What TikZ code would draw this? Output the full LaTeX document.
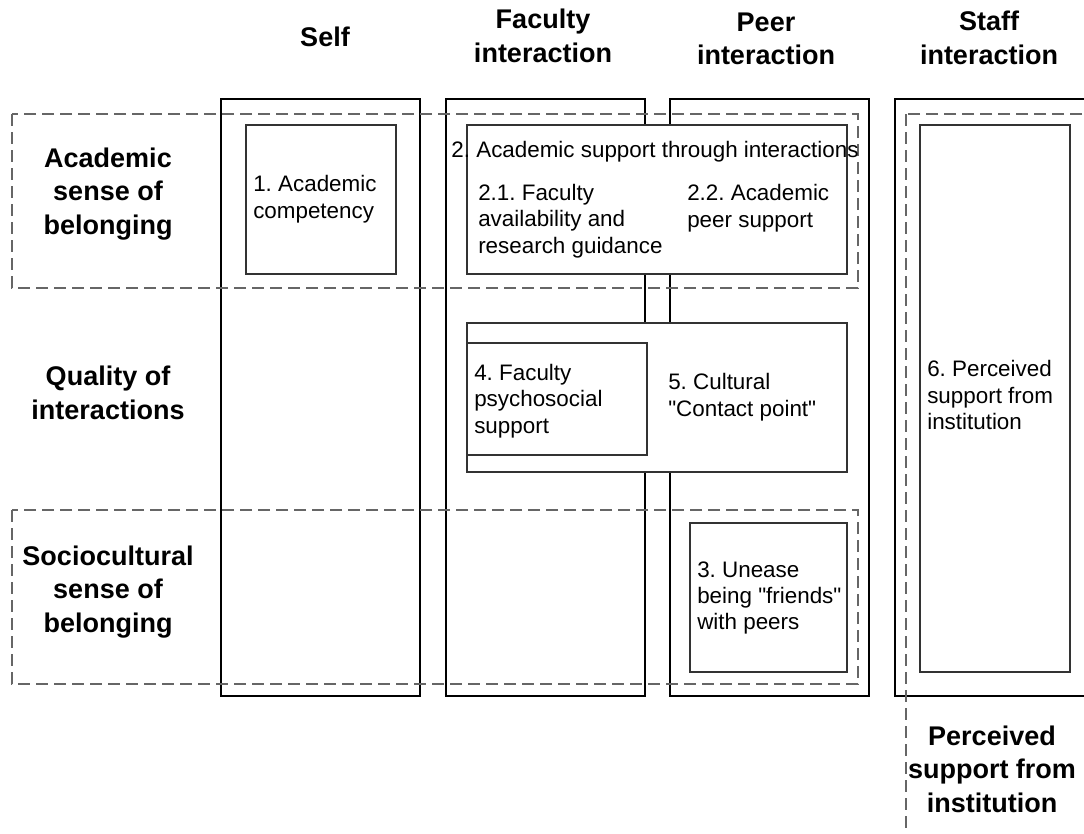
\documentclass[tikz,border=0pt]{standalone}
\usepackage{fontspec}
\setmainfont{Liberation Sans}
\frenchspacing

\tikzset{
  column/.style={draw=black, line width=2.2pt},
  band/.style={draw=black!60, dash pattern=on 9pt off 4.5pt, line width=1pt},
  item/.style={draw=black!80, fill=white, line width=1pt},
  heading/.style={font=\fontsize{20.25}{25}\selectfont\bfseries, align=center, inner sep=0pt},
  itemtext/.style={font=\fontsize{16.8}{19.8}\selectfont, align=left, inner sep=0pt, anchor=west},
}

\begin{document}
\begin{tikzpicture}[x=0.75pt, y=-0.75pt]
  \useasboundingbox (0,0) rectangle (1084,833);
  \clip (0,0) rectangle (1084,833);

  % the four columns
  \draw[column] (221,99) rectangle (420,696);
  \draw[column] (446,99) rectangle (645,696);
  \draw[column] (670,99) rectangle (869,696);
  \draw[column] (895,99) rectangle (1110,696);

  % dashed bands
  \draw[band] (12,114) rectangle (858,288);
  \draw[band] (12,510) rectangle (858,684);
  \draw[band] (906,114) rectangle (1120,870);

  % column headings
  \node[heading] (self) at (325,37) {Self};
  \node[heading] (faculty) at (543,36) {Faculty\\interaction};
  \node[heading] (peer) at (766,39) {Peer\\interaction};
  \node[heading] (staff) at (989,38) {Staff\\interaction};

  % row headings
  \node[heading] (academic) at (108,194) {Academic\\sense of\\belonging};
  \node[heading] (quality) at (108,393) {Quality of\\interactions};
  \node[heading] (socio) at (108,592) {Sociocultural\\sense of\\belonging};
  \node[heading] (perceived) at (992,769) {Perceived\\support from\\institution};

  % themes
  \path[item] (246,125) rectangle (396,274);
  \node[itemtext] (t1) at (253,199) {1. Academic\\competency};

  \path[item] (467,125) rectangle (847,274);
  \node[itemtext, anchor=center] (t2) at (655,152) {2. Academic support through interactions};
  \node[itemtext] (t21) at (478,221) {2.1. Faculty\\availability and\\research guidance};
  \node[itemtext] (t22) at (687,208) {2.2. Academic\\peer support};

  \path[item] (467,323) rectangle (847,472);
  \node[itemtext] (t5) at (668,397) {5. Cultural\\\textquotedbl Contact point\textquotedbl};
  \path[item] (467,343) rectangle (647,455);
  \node[itemtext] (t4) at (474,401) {4. Faculty\\psychosocial\\support};

  \path[item] (690,523) rectangle (847,672);
  \node[itemtext] (t3) at (697,598) {3. Unease\\being \textquotedbl friends\textquotedbl\\with peers};

  \path[item] (920,125) rectangle (1070,672);
  \node[itemtext] (t6) at (927,395) {6. Perceived\\support from\\institution};
\end{tikzpicture}
\end{document}
